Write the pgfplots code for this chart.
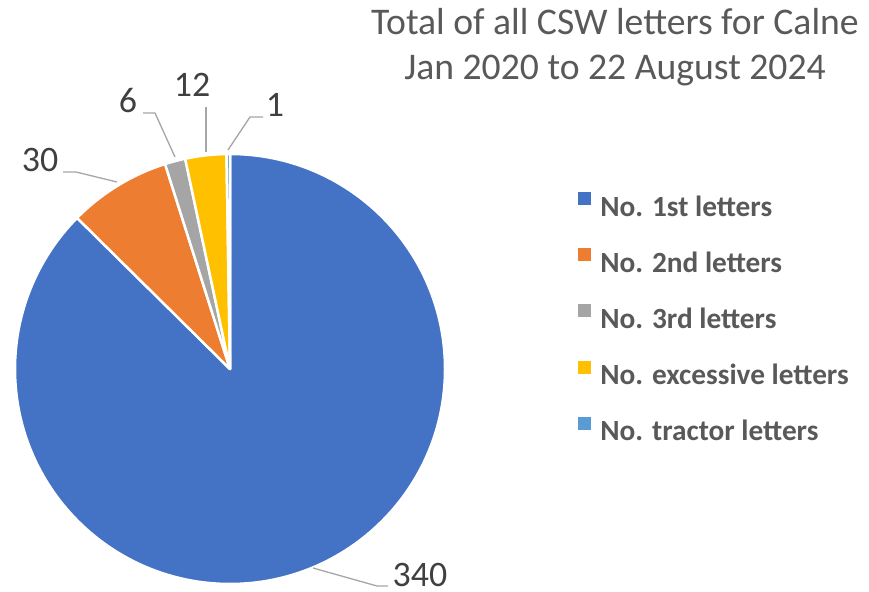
\documentclass[border=0pt]{standalone}
\usepackage{fontspec}
\setmainfont{Carlito}
\usepackage{pgfplots}
\usepackage{pgfplotstable}
\pgfplotsset{compat=1.18}

\definecolor{pieblue}{HTML}{4472C4}
\definecolor{pieorange}{HTML}{ED7D31}
\definecolor{piegray}{HTML}{A5A5A5}
\definecolor{pieyellow}{HTML}{FFC000}
\definecolor{pielight}{HTML}{5B9BD5}
\definecolor{titlegray}{HTML}{595959}
\definecolor{labgray}{HTML}{404040}
\definecolor{leadgray}{HTML}{A6A6A6}

% slices, clockwise from 12 o'clock
\pgfplotstableread{
value color
340 pieblue
30  pieorange
6   piegray
12  pieyellow
1   pielight
}\pietable

\gdef\pietotal{0}
\pgfplotstableforeachcolumnelement{value}\of\pietable\as\val{%
  \pgfmathsetmacro\tmp{\pietotal+\val}\xdef\pietotal{\tmp}}

\begin{document}
\begin{tikzpicture}
\begin{axis}[
  width=869bp, height=592bp, scale only axis,
  xmin=0, xmax=869, ymin=0, ymax=592,
  hide axis, clip=false,
  legend image code/.code={\fill[#1] (0bp,2bp) rectangle (12bp,14bp);},
  legend cell align=left,
  legend style={draw=none, fill=none, at={(axis cs:578,400)}, anchor=north west,
    inner sep=0pt, outer sep=0pt, row sep=32bp, column sep=10bp,
    font=\fontsize{29.4}{35}\selectfont\bfseries, text=titlegray,
    nodes={inner sep=0pt, text height=20bp, text depth=0pt}},
]
\pgfplotsextra{
  \path (axis cs:0,0) rectangle (axis cs:869,592);
  \pgfplotstablegetrowsof{\pietable}
  \pgfmathtruncatemacro\lastrow{\pgfplotsretval-1}
  \gdef\cum{0}
  \foreach \i in {0,...,\lastrow}{
    \pgfplotstablegetelem{\i}{value}\of\pietable \let\val\pgfplotsretval
    \pgfplotstablegetelem{\i}{color}\of\pietable \let\slicecol\pgfplotsretval
    \pgfmathsetmacro\sa{90-360*(\cum/\pietotal)}
    \pgfmathsetmacro\sb{90-360*((\cum+\val)/\pietotal)}
    \fill[fill=\slicecol, draw=white, line width=2.5bp, line join=round]
      (axis cs:230,223) -- (axis cs:{230+215*cos(\sa)},{223+215*sin(\sa)})
      arc[start angle=\sa, end angle=\sb, radius=215bp] -- cycle;
    \pgfmathsetmacro\tmp{\cum+\val}\xdef\cum{\tmp}
  }
  % leader lines
  \draw[leadgray, line width=1.3bp] (axis cs:313,24) -- (axis cs:377,6) -- (axis cs:388,6);
  \draw[leadgray, line width=1.3bp] (axis cs:63,420) -- (axis cs:76,420) -- (axis cs:117,410);
  \draw[leadgray, line width=1.3bp] (axis cs:143,479) -- (axis cs:155,479) -- (axis cs:175,435);
  \draw[leadgray, line width=1.3bp] (axis cs:206,485) -- (axis cs:206,440);
  \draw[leadgray, line width=1.3bp] (axis cs:263,475) -- (axis cs:250,475) -- (axis cs:228,442);
  % data labels
  \begin{scope}[every node/.style={text=labgray, inner sep=0pt, anchor=base,
      font=\fontsize{36}{42}\selectfont}]
    \node at (axis cs:420,6) {340};
    \node at (axis cs:40,420) {30};
    \node at (axis cs:128,479) {6};
    \node at (axis cs:192,495) {12};
    \node at (axis cs:275,475) {1};
  \end{scope}
  % title
  \node[text=titlegray, inner sep=0pt, anchor=base, font=\fontsize{37.8}{44}\selectfont]
    at (axis cs:615,557) {Total of all CSW letters for Calne};
  \node[text=titlegray, inner sep=0pt, anchor=base, font=\fontsize{37.8}{44}\selectfont]
    at (axis cs:615,512) {Jan 2020 to 22 August 2024};
}
\addlegendimage{pieblue}
\addlegendentry{No. 1st letters}
\addlegendimage{pieorange}
\addlegendentry{No. 2nd letters}
\addlegendimage{piegray}
\addlegendentry{No. 3rd letters}
\addlegendimage{pieyellow}
\addlegendentry{No. excessive letters}
\addlegendimage{pielight}
\addlegendentry{No. tractor letters}
\end{axis}
\end{tikzpicture}
\end{document}
